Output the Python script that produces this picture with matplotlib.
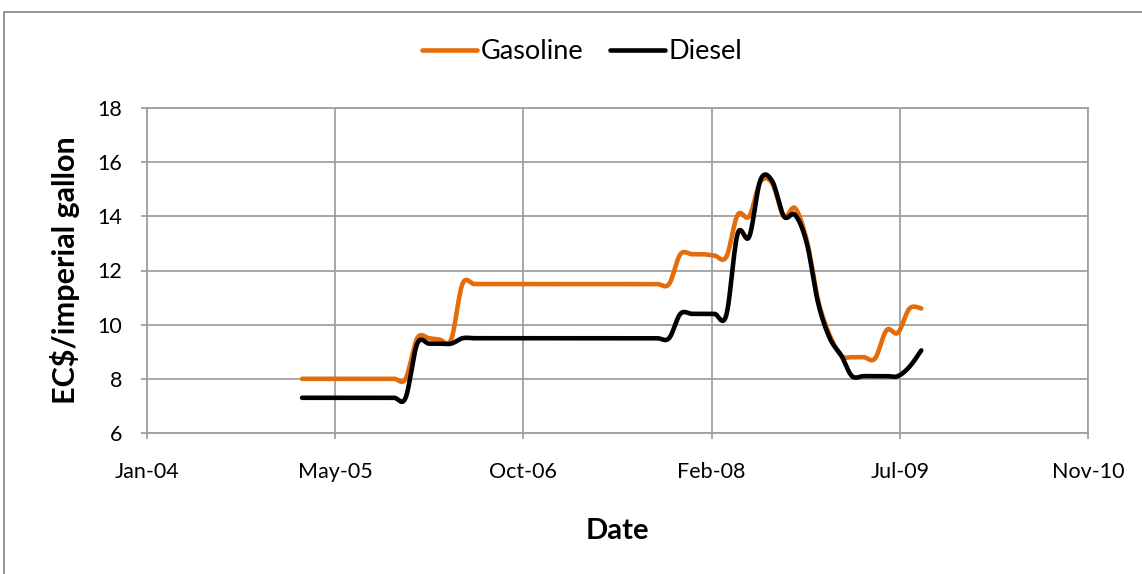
import numpy as np
import pandas as pd
import matplotlib
matplotlib.use('Agg')
import matplotlib.pyplot as plt
import matplotlib.dates as mdates
from matplotlib.patches import Rectangle

# monthly prices, Mar 2005 .. Sep 2009 (EC$ per imperial gallon)
months = pd.date_range('2005-03-01', '2009-09-01', freq='MS')

gasoline = [
    8.0, 8.0, 8.0, 8.0, 8.0, 8.0, 8.0, 8.0, 8.0, 8.0,                      # 2005 Mar-Dec
    9.5, 9.5, 9.45, 9.45, 11.5, 11.5, 11.5, 11.5, 11.5, 11.5, 11.5, 11.5,  # 2006
    11.5, 11.5, 11.5, 11.5, 11.5, 11.5, 11.5, 11.5, 11.5, 11.5, 11.5, 12.6,  # 2007
    12.6, 12.6, 12.55, 12.5, 14.05, 14.0, 15.28, 15.22, 14.0, 14.3, 13.1, 10.9,  # 2008
    9.6, 8.85, 8.8, 8.8, 8.75, 9.8, 9.7, 10.6, 10.6,                       # 2009 Jan-Sep
]
diesel = [
    7.3, 7.3, 7.3, 7.3, 7.3, 7.3, 7.3, 7.3, 7.3, 7.3,
    9.3, 9.3, 9.3, 9.3, 9.5, 9.5, 9.5, 9.5, 9.5, 9.5, 9.5, 9.5,
    9.5, 9.5, 9.5, 9.5, 9.5, 9.5, 9.5, 9.5, 9.5, 9.5, 9.5, 10.4,
    10.4, 10.4, 10.4, 10.35, 13.35, 13.25, 15.35, 15.3, 14.0, 14.05, 13.0, 10.8,
    9.5, 8.85, 8.1, 8.1, 8.1, 8.1, 8.1, 8.45, 9.05,
]

# excel-style date axis: serial 38000 .. 40500, step 500 days
excel_ticks = [38000, 38500, 39000, 39500, 40000, 40500]
y_ticks = [6, 8, 10, 12, 14, 16, 18]

ORANGE = '#E46C0A'
GRID = '#A0A0A0'

plt.rcParams['font.family'] = ['Lato', 'DejaVu Sans']


def excel_dates(serials):
    return pd.to_datetime(serials, unit='D', origin='1899-12-30')


def smooth(x, y, sx, sy, n=24):
    # bezier smoothing in screen space, like Excel's "smoothed line"
    P = np.column_stack([np.asarray(x) * sx, np.asarray(y) * sy])
    Pe = np.vstack([P[0], P, P[-1]])
    t = np.linspace(0, 1, n, endpoint=False)[:, None]
    segs = []
    for i in range(len(P) - 1):
        p0, p1, p2, p3 = Pe[i], Pe[i + 1], Pe[i + 2], Pe[i + 3]
        c1 = p1 + (p2 - p0) / 6
        c2 = p2 - (p3 - p1) / 6
        segs.append((1 - t) ** 3 * p1 + 3 * (1 - t) ** 2 * t * c1
                    + 3 * (1 - t) * t ** 2 * c2 + t ** 3 * p2)
    segs.append(P[-1:])
    pts = np.vstack(segs)
    return pts[:, 0] / sx, pts[:, 1] / sy


fig = plt.figure(figsize=(11.42, 5.74), dpi=100)
ax = fig.add_axes([147 / 1142, 1 - 433 / 574, 941 / 1142, 325 / 574])

tick_dates = excel_dates(excel_ticks)
x0, x1 = mdates.date2num(tick_dates[0]), mdates.date2num(tick_dates[-1])
ax.set_xlim(x0, x1)
ax.set_ylim(6, 18)

bb = ax.get_window_extent()
sx = bb.width / (x1 - x0)
sy = bb.height / 12

xm = mdates.date2num(months)
for vals, col, lab in [(gasoline, ORANGE, 'Gasoline'), (diesel, 'black', 'Diesel')]:
    xs, ys = smooth(xm, vals, sx, sy)
    ax.plot(xs, ys, color=col, lw=3.3, solid_capstyle='round', label=lab)

ax.set_xticks(mdates.date2num(tick_dates))
ax.set_xticklabels([d.strftime('%b-%y') for d in tick_dates])
ax.set_yticks(y_ticks)
ax.grid(True, color=GRID, lw=1.3)
ax.set_axisbelow(True)
for s in ax.spines.values():
    s.set_color(GRID)
    s.set_linewidth(1.3)
ax.tick_params(axis='both', colors=GRID, labelcolor='black', labelsize=15.5,
               length=4, width=1.3, direction='out')
ax.tick_params(axis='y', pad=14)
ax.tick_params(axis='x', pad=17)

ax.set_xlabel('Date', fontsize=21, fontweight='bold', labelpad=26)
ax.set_ylabel('EC$/imperial gallon', fontsize=22, fontweight='bold', labelpad=12)

fig.legend(loc='center', bbox_to_anchor=(0.51, 0.91), ncol=2, frameon=False,
           fontsize=19.5, handlelength=2.0, handletextpad=0.15, columnspacing=1.0)

fig.patches.append(Rectangle((4 / 1142, -0.05), 1.1, 1 - 12 / 574 + 0.05,
                             transform=fig.transFigure, fill=False,
                             edgecolor='#8C8C8C', lw=1.3))

fig.savefig('out.png', dpi=100)
